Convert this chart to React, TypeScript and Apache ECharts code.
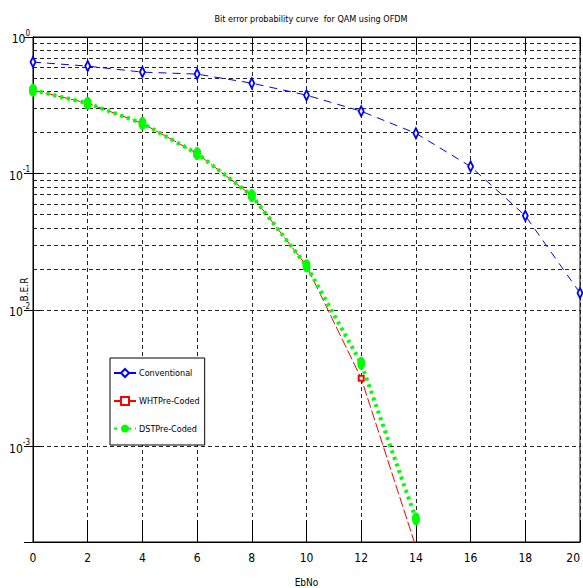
import React, { useEffect, useRef } from "react";
import * as echarts from "echarts";

const titleText = "Bit error probability curve  for QAM using OFDM";
const xName = "EbNo";
const yName = "B.E.R";
const xEbNo = [0, 2, 4, 6, 8, 10, 12, 14, 16, 18, 20];
const xCoded = [0, 2, 4, 6, 8, 10, 12, 14];
const conventional = [0.655, 0.612, 0.553, 0.535, 0.459, 0.375, 0.286, 0.197, 0.1125, 0.0491, 0.01334];
const whtCoded = [0.408, 0.327, 0.233, 0.14, 0.0689, 0.0211, 0.00316, 0.000184];
const dstCoded = [0.408, 0.327, 0.233, 0.14, 0.0689, 0.0211, 0.00407, 0.000296];
const seriesNames = ["Conventional", "WHTPre-Coded", "DSTPre-Coded"];
const yMin = 0.0002;
const yMax = 1;

const FONT = "'Liberation Sans Narrow', 'DejaVu Sans Condensed', 'Liberation Sans', sans-serif";

function minorValues(): number[] {
  const out: number[] = [];
  for (let d = -4; d <= -1; d++) {
    for (let k = 2; k <= 9; k++) {
      const v = k * Math.pow(10, d);
      if (v > yMin * 1.0001 && v < yMax) out.push(v);
    }
  }
  return out;
}

export default function App() {
  const ref = useRef<HTMLDivElement>(null);
  useEffect(() => {
    if (!ref.current) return;
    const chart = echarts.init(ref.current, undefined, { renderer: "svg" });
    const gridDash = { color: "#222", width: 1, type: [4, 3] as any };
    const option: any = {
      animation: false,
      backgroundColor: "#fff",
      title: {
        text: titleText,
        left: 306,
        top: 9,
        textAlign: "center",
        textStyle: { fontFamily: FONT, fontSize: 9, fontWeight: "normal", color: "#000" },
      },
      legend: {
        left: 110,
        top: 358,
        orient: "vertical",
        padding: [10, 5, 12, 3],
        itemGap: 18,
        itemWidth: 22,
        itemHeight: 10,
        borderColor: "#000",
        borderWidth: 1,
        backgroundColor: "#fff",
        selectedMode: false,
        data: seriesNames,
        textStyle: { fontFamily: FONT, fontSize: 9, color: "#000", padding: [0, 0, 0, -2] },
        z: 10,
      },
      grid: { left: 33, right: 3, top: 37, bottom: 46, show: true, borderColor: "#000", borderWidth: 1, outerBoundsMode: "none" },
      xAxis: [
        {
          type: "value",
          min: 0,
          max: 20,
          interval: 2,
          name: xName,
          nameLocation: "middle",
          nameGap: 35,
          nameMoveOverlap: false,
          nameTextStyle: { fontFamily: FONT, fontSize: 10, color: "#000" },
          axisLine: { show: true, lineStyle: { color: "#000", width: 1 } },
          axisTick: { show: true, inside: true, length: 22, lineStyle: { color: "#000" } },
          axisLabel: { show: true, margin: 10, fontFamily: FONT, fontSize: 12, color: "#000", alignMaxLabel: "right" },
          splitLine: { show: true, lineStyle: gridDash },
        },
        {
          type: "value",
          min: 0,
          max: 20,
          interval: 2,
          position: "top",
          axisLine: { show: true, lineStyle: { color: "#000" } },
          axisTick: { show: true, inside: true, length: 14, lineStyle: { color: "#000" } },
          axisLabel: { show: false },
          splitLine: { show: false },
        },
      ],
      yAxis: [
        {
          type: "log",
          logBase: 10,
          min: yMin,
          max: yMax,
          name: yName,
          nameLocation: "middle",
          nameRotate: 90,
          nameGap: 4,
          nameMoveOverlap: false,
          nameTextStyle: { fontFamily: FONT, fontSize: 10, color: "#000" },
          axisLine: { show: true, lineStyle: { color: "#000", width: 1 } },
          axisTick: { show: true, inside: true, length: 9, lineStyle: { color: "#000" } },
          axisLabel: {
            show: true,
            margin: 3,
            formatter: (v: number) => {
              const e = Math.log10(v);
              if (Math.abs(e - Math.round(e)) > 1e-6) return "";
              return "{a|10}{e|" + Math.round(e) + "}";
            },
            rich: {
              a: { fontFamily: FONT, fontSize: 12, color: "#000", verticalAlign: "bottom", lineHeight: 16 },
              e: { fontFamily: FONT, fontSize: 8, color: "#000", verticalAlign: "top", lineHeight: 16 },
            },
          },
          splitLine: { show: true, lineStyle: gridDash },
        },
        {
          type: "log",
          logBase: 10,
          min: yMin,
          max: yMax,
          position: "right",
          axisLine: { show: true, lineStyle: { color: "#000" } },
          axisTick: { show: true, inside: true, length: 9, lineStyle: { color: "#000" } },
          axisLabel: { show: false },
          splitLine: { show: false },
        },
      ],
      series: [
        {
          name: seriesNames[0],
          type: "line",
          data: xEbNo.map((x, i) => [x, conventional[i]]),
          symbol: "emptyDiamond",
          symbolSize: [5, 10],
          lineStyle: { color: "#0000ff", width: 1, type: [8, 6] },
          itemStyle: { color: "#0000ff", borderColor: "#0000ff", borderWidth: 1 },
          z: 3,
          markLine: {
            silent: true,
            symbol: "none",
            label: { show: false },
            lineStyle: gridDash,
            z: 1,
            data: minorValues().map((v) => ({ yAxis: v })),
          },
        },
        {
          name: seriesNames[1],
          type: "line",
          data: xCoded.map((x, i) => [x, whtCoded[i]]),
          symbol: "emptyRect",
          symbolSize: 5,
          lineStyle: { color: "#ff0000", width: 1, type: [10, 3] },
          itemStyle: { color: "#ff0000", borderColor: "#ff0000", borderWidth: 1 },
          z: 4,
        },
        {
          name: seriesNames[2],
          type: "line",
          data: xCoded.map((x, i) => [x, dstCoded[i]]),
          symbol: "circle",
          symbolSize: [8, 13],
          lineStyle: { color: "#00ff00", width: 4, type: [3, 4] },
          itemStyle: { color: "#00ff00" },
          z: 5,
        },
      ],
    };
    chart.setOption(option);
    return () => chart.dispose();
  }, []);
  return <div ref={ref} style={{ width: 583, height: 588, position: "absolute", left: 0, top: 0 }} />;
}
